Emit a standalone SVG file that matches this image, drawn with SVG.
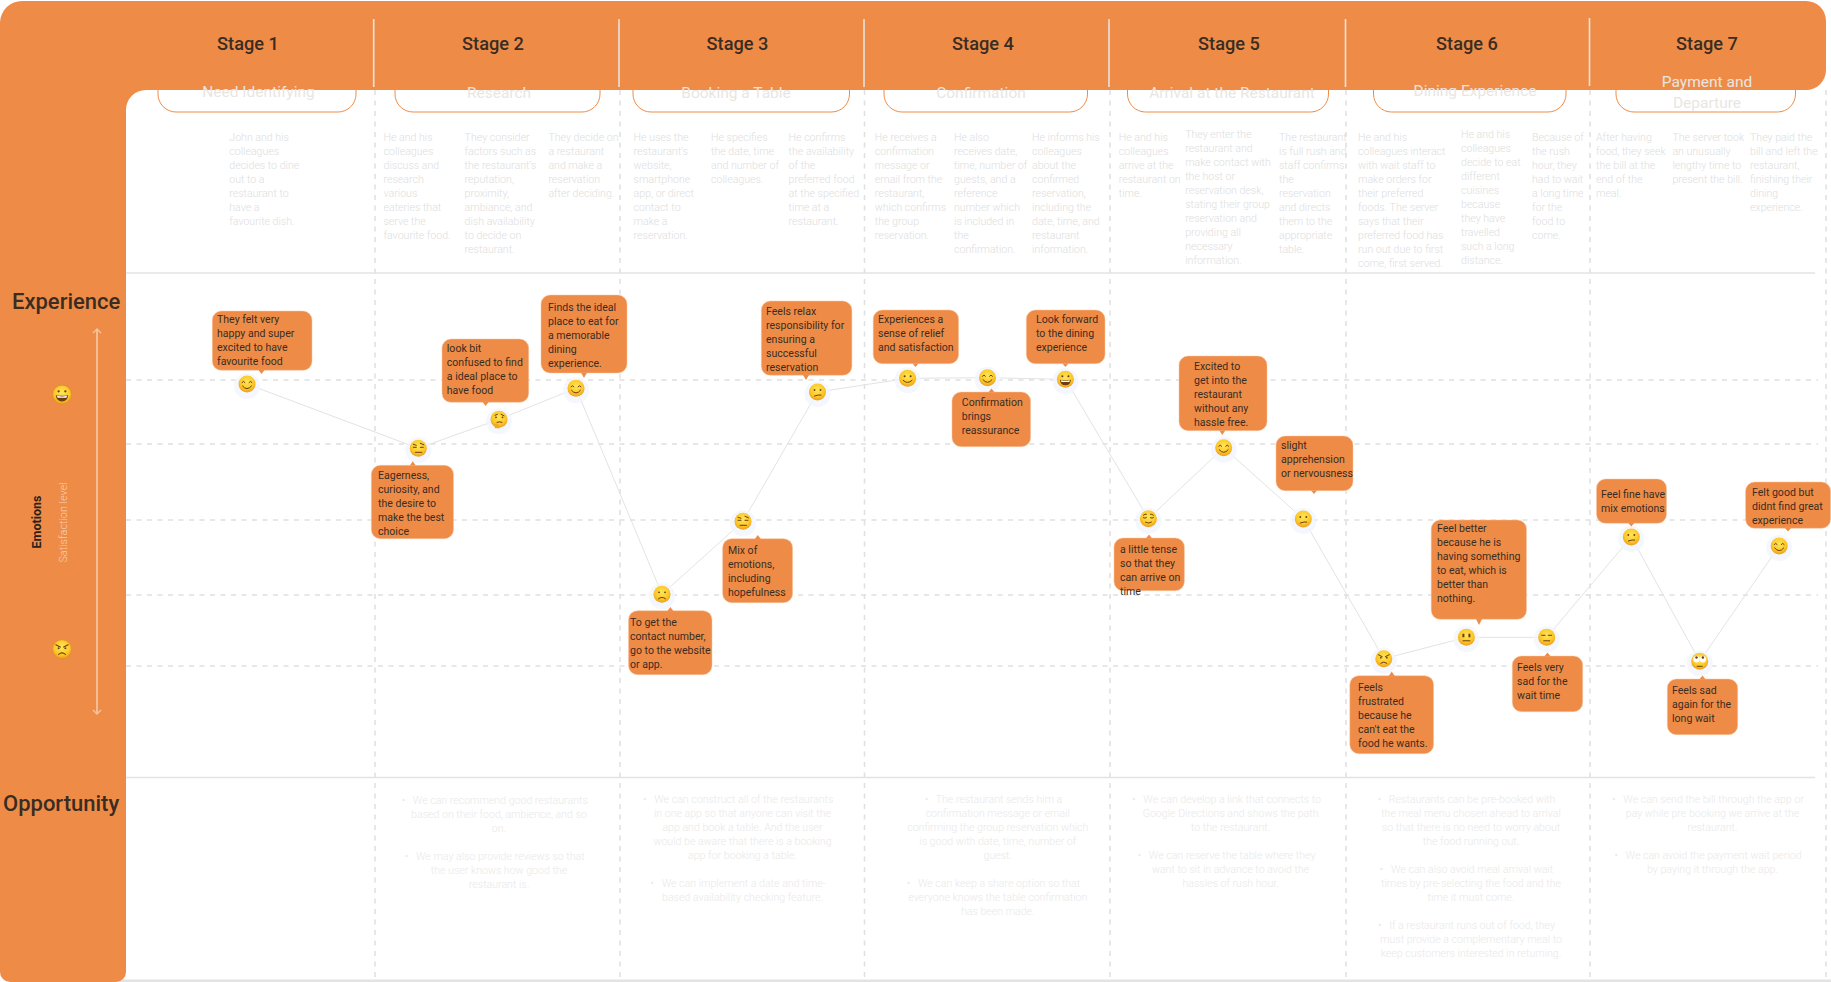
<svg xmlns="http://www.w3.org/2000/svg" width="1831" height="982" viewBox="0 0 1831 982">
<style>
text{font-family:Roboto,"Liberation Sans",sans-serif}
.stage{font-size:18.200px;font-weight:500;fill:#3a2c22;text-anchor:middle}
.side{font-size:22px;font-weight:500;fill:#3a2c22}
.pill{fill:#fff;stroke:#ee8c47;stroke-width:1}
.ptxt{font-size:15.500px;font-weight:400;fill:#e9e6e2;text-anchor:middle}
.body{font-size:10.600px;font-weight:300;fill:#dedede}
.opp{font-size:10.600px;font-weight:300;fill:#e9e9e9;text-anchor:middle}
.call{fill:#ee8c47;stroke:#f6c6a2;stroke-width:.5}
.tail{fill:#ee8c47}
.ctxt{font-size:10.550px;fill:#3a2c22}
.dash{stroke:#e0e0e0;stroke-width:1.500;stroke-dasharray:5 5.500;fill:none}
.solid{stroke:#e3e3e3;stroke-width:1.500;fill:none}
.sep{stroke:#e6e3e0;stroke-width:1.600}
.conn{stroke:#e3e3e3;stroke-width:1;fill:none}
.f{fill:none;stroke:#6b3d12;stroke-width:1;stroke-linecap:round}
.d{fill:#6b3d12}
</style>
<defs>
<radialGradient id="skin" cx="50%" cy="38%" r="62%"><stop offset="0" stop-color="#ffe55a"/><stop offset=".65" stop-color="#fcc827"/><stop offset="1" stop-color="#ee9a1e"/></radialGradient>
<marker id="chev" viewBox="0 0 6 10" refX="5" refY="5" markerWidth="6" markerHeight="10" markerUnits="userSpaceOnUse" orient="auto-start-reverse"><path d="M1 1L5 5L1 9" fill="none" stroke="#f4c39d" stroke-width="1.400"/></marker>
<g id="base"><circle r="13" cy="2" fill="#f1f5fd" opacity=".8"/><circle r="8.500" fill="url(#skin)"/></g>
<g id="baseS"><circle r="9.500" fill="url(#skin)" stroke="#dd8a20" stroke-width=".6"/></g>
<g id="joy"><use href="#base"/><path class="f" d="M-5-1.500Q-3.500-4-2-1.500M2-1.500Q3.500-4 5-1.500M-4.500 2Q0 7.500 4.500 2"/></g>
<g id="raise"><use href="#base"/><path class="f" d="M-5-4L-2-3M2-5L5.500-3.500M-5-1H-2M2-1H5M-3 4H3.500"/></g>
<g id="think"><use href="#base"/><path class="f" d="M-4-4L-1.500-5M2-5L5-3.500"/><circle class="d" cx="-3" cy="-2" r=".9"/><circle class="d" cx="3.500" cy="-2" r=".9"/><path class="f" d="M-2 3Q1 2 3 3"/><path d="M-5 5.500Q-3 2.500-.5 5.500L1 9H-4Z" fill="#f3a91f"/></g>
<g id="frown"><use href="#base"/><circle class="d" cx="-3" cy="-2" r=".9"/><circle class="d" cx="3" cy="-2" r=".9"/><path class="f" d="M-3.500 4.500Q0 1.500 3.500 4.500"/></g>
<g id="confused"><use href="#base"/><circle class="d" cx="-3" cy="-2" r=".9"/><circle class="d" cx="3" cy="-2" r=".9"/><path class="f" d="M-3 4Q1 2.500 3.500 3"/></g>
<g id="smile"><use href="#base"/><circle class="d" cx="-3" cy="-2" r="1"/><circle class="d" cx="3" cy="-2" r="1"/><path class="f" d="M-4.500 2Q0 6.500 4.500 2"/></g>
<g id="grin"><use href="#base"/><circle class="d" cx="-3" cy="-3" r="1"/><circle class="d" cx="3" cy="-3" r="1"/><path d="M-5.500 0.500Q0 1.500 5.500 0.500Q5 6-0 6Q-5 6-5.500 0.500Z" fill="#6b3d12"/><path d="M-4.500 1Q0 2 4.500 1L4 2.800H-4Z" fill="#fff"/></g>
<g id="relief"><use href="#base"/><path class="f" d="M-5-3.500Q-3.500-5-2-4.500M2-4.500Q3.500-5 5-3.500M-5-1Q-3.500 0-2-1M2-1Q3.500 0 5-1M-3 3.500Q0 5.500 3 3.500"/></g>
<g id="angry"><use href="#base"/><path class="f" d="M-5.500-4L-1.500-2M5.500-4L1.500-2"/><circle class="d" cx="-3" cy="-1" r=".9"/><circle class="d" cx="3" cy="-1" r=".9"/><path class="f" d="M-3 4.500Q0 2 3 4.500"/></g>
<g id="neutral"><use href="#base"/><path class="d" d="M-4-4h2v3.500h-2zM2-4h2v3.500h-2z" transform="translate(0 .5)"/><path class="f" d="M-3.500 3.500H3.500"/></g>
<g id="flat"><use href="#base"/><path class="f" d="M-5-2H-1.500M1.500-2H5M-3 3.500H3"/></g>
<g id="roll"><use href="#base"/><circle cx="-3.200" cy="-2" r="3.200" fill="#fff"/><circle cx="3.200" cy="-2" r="3.200" fill="#fff"/><circle class="d" cx="-3.200" cy="-3.800" r="1.200"/><circle class="d" cx="3.200" cy="-3.800" r="1.200"/><path class="f" d="M-2.500 5H2.500"/></g>
</defs>

<rect width="1831" height="982" fill="#fff"/>

<g id="grid">
<path class="dash" d="M126 380H1818M126 444H1818M126 520H1818M126 595H1818M126 666H1818"/>
<path class="dash" d="M375 90V981M620 90V981M864.500 90V981M1110 90V981M1346 90V981M1590 90V981M1826 90V981"/>
<path class="solid" d="M126 273H1815M126 777.500H1815"/>
<path d="M117 981H1831" stroke="#e3e3e3" stroke-width="3"/>
</g>

<g id="pills">
<rect class="pill" x="158" y="60" width="198" height="52" rx="18"/>
<rect class="pill" x="395" y="60" width="205" height="52" rx="18"/>
<rect class="pill" x="633" y="60" width="216.500" height="52" rx="18"/>
<rect class="pill" x="884" y="60" width="203.500" height="52" rx="18"/>
<rect class="pill" x="1127.500" y="60" width="201" height="52" rx="18"/>
<rect class="pill" x="1373.500" y="60" width="192.500" height="52" rx="18"/>
<rect class="pill" x="1616" y="60" width="179.500" height="52" rx="18"/>
</g>

<path id="frame" fill="#ee8c47" d="M0 22A22 22 0 0 1 22 1H1806A20 20 0 0 1 1826 21V70A20 20 0 0 1 1806 90H146A20 20 0 0 0 126 110V972A10 10 0 0 1 116 982H10A10 10 0 0 1 0 972Z"/>

<g id="separators">
<path class="sep" d="M373.700 19V87M619 19V87M864 19V87M1109 19V87M1345.500 19V87M1589.500 18V86"/>
</g>

<g id="stage-1"><text class="stage" x="248" y="49.500">Stage 1</text><text class="ptxt" x="258.500" y="96.500">Need Identifying</text>
<text class="body" x="229.300" y="141"><tspan x="229.300">John and his</tspan><tspan x="229.300" dy="14">colleagues</tspan><tspan x="229.300" dy="14">decides to dine</tspan><tspan x="229.300" dy="14">out to a</tspan><tspan x="229.300" dy="14">restaurant to</tspan><tspan x="229.300" dy="14">have a</tspan><tspan x="229.300" dy="14">favourite dish.</tspan></text></g>

<g id="stage-2"><text class="stage" x="493" y="49.500">Stage 2</text><text class="ptxt" x="499" y="97.500">Research</text>
<text class="body" y="141"><tspan x="383.500">He and his</tspan><tspan x="383.500" dy="14">colleagues</tspan><tspan x="383.500" dy="14">discuss and</tspan><tspan x="383.500" dy="14">research</tspan><tspan x="383.500" dy="14">various</tspan><tspan x="383.500" dy="14">eateries that</tspan><tspan x="383.500" dy="14">serve the</tspan><tspan x="383.500" dy="14">favourite food.</tspan></text>
<text class="body" y="141"><tspan x="464.600">They consider</tspan><tspan x="464.600" dy="14">factors such as</tspan><tspan x="464.600" dy="14">the restaurant's</tspan><tspan x="464.600" dy="14">reputation,</tspan><tspan x="464.600" dy="14">proximity,</tspan><tspan x="464.600" dy="14">ambiance, and</tspan><tspan x="464.600" dy="14">dish availability</tspan><tspan x="464.600" dy="14">to decide on</tspan><tspan x="464.600" dy="14">restaurant.</tspan></text>
<text class="body" y="141"><tspan x="548.400">They decide on</tspan><tspan x="548.400" dy="14">a restaurant</tspan><tspan x="548.400" dy="14">and make a</tspan><tspan x="548.400" dy="14">reservation</tspan><tspan x="548.400" dy="14">after deciding.</tspan></text></g>

<g id="stage-3"><text class="stage" x="737.500" y="49.500">Stage 3</text><text class="ptxt" x="736" y="97.500">Booking a Table</text>
<text class="body" y="141"><tspan x="633.600">He uses the</tspan><tspan x="633.600" dy="14">restaurant's</tspan><tspan x="633.600" dy="14">website,</tspan><tspan x="633.600" dy="14">smartphone</tspan><tspan x="633.600" dy="14">app, or direct</tspan><tspan x="633.600" dy="14">contact to</tspan><tspan x="633.600" dy="14">make a</tspan><tspan x="633.600" dy="14">reservation.</tspan></text>
<text class="body" y="141"><tspan x="711">He specifies</tspan><tspan x="711" dy="14">the date, time</tspan><tspan x="711" dy="14">and number of</tspan><tspan x="711" dy="14">colleagues.</tspan></text>
<text class="body" y="141"><tspan x="788.600">He confirms</tspan><tspan x="788.600" dy="14">the availability</tspan><tspan x="788.600" dy="14">of the</tspan><tspan x="788.600" dy="14">preferred food</tspan><tspan x="788.600" dy="14">at the specified</tspan><tspan x="788.600" dy="14">time at a</tspan><tspan x="788.600" dy="14">restaurant.</tspan></text></g>

<g id="stage-4"><text class="stage" x="983" y="49.500">Stage 4</text><text class="ptxt" x="981" y="97.500">Confirmation</text>
<text class="body" y="141"><tspan x="874.800">He receives a</tspan><tspan x="874.800" dy="14">confirmation</tspan><tspan x="874.800" dy="14">message or</tspan><tspan x="874.800" dy="14">email from the</tspan><tspan x="874.800" dy="14">restaurant,</tspan><tspan x="874.800" dy="14">which confirms</tspan><tspan x="874.800" dy="14">the group</tspan><tspan x="874.800" dy="14">reservation.</tspan></text>
<text class="body" y="141"><tspan x="954">He also</tspan><tspan x="954" dy="14">receives date,</tspan><tspan x="954" dy="14">time, number of</tspan><tspan x="954" dy="14">guests, and a</tspan><tspan x="954" dy="14">reference</tspan><tspan x="954" dy="14">number which</tspan><tspan x="954" dy="14">is included in</tspan><tspan x="954" dy="14">the</tspan><tspan x="954" dy="14">confirmation.</tspan></text>
<text class="body" y="141"><tspan x="1032">He informs his</tspan><tspan x="1032" dy="14">colleagues</tspan><tspan x="1032" dy="14">about the</tspan><tspan x="1032" dy="14">confirmed</tspan><tspan x="1032" dy="14">reservation,</tspan><tspan x="1032" dy="14">including the</tspan><tspan x="1032" dy="14">date, time, and</tspan><tspan x="1032" dy="14">restaurant</tspan><tspan x="1032" dy="14">information.</tspan></text></g>

<g id="stage-5"><text class="stage" x="1229" y="49.500">Stage 5</text><text class="ptxt" x="1232" y="97.500">Arrival at the Restaurant</text>
<text class="body" y="141"><tspan x="1118.800">He and his</tspan><tspan x="1118.800" dy="14">colleagues</tspan><tspan x="1118.800" dy="14">arrive at the</tspan><tspan x="1118.800" dy="14">restaurant on</tspan><tspan x="1118.800" dy="14">time.</tspan></text>
<text class="body" y="138"><tspan x="1185.200">They enter the</tspan><tspan x="1185.200" dy="14">restaurant and</tspan><tspan x="1185.200" dy="14">make contact with</tspan><tspan x="1185.200" dy="14">the host or</tspan><tspan x="1185.200" dy="14">reservation desk,</tspan><tspan x="1185.200" dy="14">stating their group</tspan><tspan x="1185.200" dy="14">reservation and</tspan><tspan x="1185.200" dy="14">providing all</tspan><tspan x="1185.200" dy="14">necessary</tspan><tspan x="1185.200" dy="14">information.</tspan></text>
<text class="body" y="141"><tspan x="1279">The restaurant</tspan><tspan x="1279" dy="14">is full rush and</tspan><tspan x="1279" dy="14">staff confirms</tspan><tspan x="1279" dy="14">the</tspan><tspan x="1279" dy="14">reservation</tspan><tspan x="1279" dy="14">and directs</tspan><tspan x="1279" dy="14">them to the</tspan><tspan x="1279" dy="14">appropriate</tspan><tspan x="1279" dy="14">table.</tspan></text></g>

<g id="stage-6"><text class="stage" x="1467" y="49.500">Stage 6</text><text class="ptxt" x="1475" y="96">Dining Experience</text>
<text class="body" y="141"><tspan x="1358">He and his</tspan><tspan x="1358" dy="14">colleagues interact</tspan><tspan x="1358" dy="14">with wait staff to</tspan><tspan x="1358" dy="14">make orders for</tspan><tspan x="1358" dy="14">their preferred</tspan><tspan x="1358" dy="14">foods. The server</tspan><tspan x="1358" dy="14">says that their</tspan><tspan x="1358" dy="14">preferred food has</tspan><tspan x="1358" dy="14">run out due to first</tspan><tspan x="1358" dy="14">come, first served.</tspan></text>
<text class="body" y="138"><tspan x="1461">He and his</tspan><tspan x="1461" dy="14">colleagues</tspan><tspan x="1461" dy="14">decide to eat</tspan><tspan x="1461" dy="14">different</tspan><tspan x="1461" dy="14">cuisines</tspan><tspan x="1461" dy="14">because</tspan><tspan x="1461" dy="14">they have</tspan><tspan x="1461" dy="14">travelled</tspan><tspan x="1461" dy="14">such a long</tspan><tspan x="1461" dy="14">distance.</tspan></text>
<text class="body" y="141"><tspan x="1532">Because of</tspan><tspan x="1532" dy="14">the rush</tspan><tspan x="1532" dy="14">hour, they</tspan><tspan x="1532" dy="14">had to wait</tspan><tspan x="1532" dy="14">a long time</tspan><tspan x="1532" dy="14">for the</tspan><tspan x="1532" dy="14">food to</tspan><tspan x="1532" dy="14">come.</tspan></text></g>

<g id="stage-7"><text class="stage" x="1707" y="49.500">Stage 7</text><text class="ptxt" x="1707" y="86.500">Payment and</text><text class="ptxt" x="1707" y="107.500">Departure</text>
<text class="body" y="141"><tspan x="1596">After having</tspan><tspan x="1596" dy="14">food, they seek</tspan><tspan x="1596" dy="14">the bill at the</tspan><tspan x="1596" dy="14">end of the</tspan><tspan x="1596" dy="14">meal.</tspan></text>
<text class="body" y="141"><tspan x="1672.400">The server took</tspan><tspan x="1672.400" dy="14">an unusually</tspan><tspan x="1672.400" dy="14">lengthy time to</tspan><tspan x="1672.400" dy="14">present the bill.</tspan></text>
<text class="body" y="141"><tspan x="1750">They paid the</tspan><tspan x="1750" dy="14">bill and left the</tspan><tspan x="1750" dy="14">restaurant,</tspan><tspan x="1750" dy="14">finishing their</tspan><tspan x="1750" dy="14">dining</tspan><tspan x="1750" dy="14">experience.</tspan></text></g>

<g id="side-labels">
<text class="side" x="12" y="308.500">Experience</text>
<text class="side" x="3" y="810.500">Opportunity</text>
<text x="41" y="522" transform="rotate(-90 41 522)" text-anchor="middle" font-size="12.500" font-weight="700" fill="#2b211a">Emotions</text>
<text x="66.500" y="522.500" transform="rotate(-90 66.500 522.500)" text-anchor="middle" font-size="10.800" font-weight="300" fill="#f5cfb3">Satisfaction level</text>
<path d="M97 329V714" stroke="#f4c39d" stroke-width="1.800" fill="none" marker-start="url(#chev)" marker-end="url(#chev)"/>
<use href="#baseS" x="62" y="394.700"/><g transform="translate(62 394.700) scale(1.120)"><circle class="d" cx="-3" cy="-3" r="1"/><circle class="d" cx="3" cy="-3" r="1"/><path d="M-5.500 0.500Q0 1.500 5.500 0.500Q5 6-0 6Q-5 6-5.500 0.500Z" fill="#6b3d12"/><path d="M-4.500 1Q0 2 4.500 1L4 2.800H-4Z" fill="#fff"/></g>
<use href="#baseS" x="62" y="649.300"/><g transform="translate(62 649.300) scale(1.120)"><path class="f" d="M-5.500-4L-1.500-2M5.500-4L1.500-2"/><circle class="d" cx="-3" cy="-1" r=".9"/><circle class="d" cx="3" cy="-1" r=".9"/><path class="f" d="M-3 4.500Q0 2 3 4.500"/></g>
</g>

<g id="connectors" class="conn">
<path d="M247 384L418.300 448.300"/>
<path d="M418.300 448.300L499 419.300"/>
<path d="M499 419.300L576 388.300"/>
<path d="M576 388.300L662 594.300"/>
<path d="M662 594.300L743 521.300"/>
<path d="M743 521.300L817.500 392"/>
<path d="M817.500 392L907.600 378.300"/>
<path d="M907.600 378.300L987.500 377.700"/>
<path d="M987.500 377.700L1065.400 379.300"/>
<path d="M1065.400 379.300L1148.400 518.700"/>
<path d="M1148.400 518.700L1223.700 447.700"/>
<path d="M1223.700 447.700L1303.300 519"/>
<path d="M1303.300 519L1383.800 658.700"/>
<path d="M1383.800 658.700L1466.400 637.300"/>
<path d="M1466.400 637.300L1546.700 637.300"/>
<path d="M1546.700 637.300L1631.300 537"/>
<path d="M1631.300 537L1699.700 661.300"/>
<path d="M1699.700 661.300L1779.200 546"/>
</g>

<g id="node-1"><use href="#joy" x="247" y="384"/><rect class="call" x="212.300" y="311" width="99.700" height="59.300" rx="9"/><path class="tail" d="M258.500 370H264.500L261.500 374Z"/>
<text class="ctxt" y="323"><tspan x="217">They felt very</tspan><tspan x="217" dy="14">happy and super</tspan><tspan x="217" dy="14">excited to have</tspan><tspan x="217" dy="14">favourite food</tspan></text></g>
<g id="node-2"><use href="#raise" x="418.300" y="448.300"/><rect class="call" x="371.300" y="465.300" width="82.200" height="73.400" rx="9"/><path class="tail" d="M409.800 465.500H415.800L412.800 461.300Z"/>
<text class="ctxt" y="479"><tspan x="378">Eagerness,</tspan><tspan x="378" dy="14">curiosity, and</tspan><tspan x="378" dy="14">the desire to</tspan><tspan x="378" dy="14">make the best</tspan><tspan x="378" dy="14">choice</tspan></text></g>
<g id="node-3"><use href="#think" x="499" y="419.300"/><rect class="call" x="442" y="339" width="86.700" height="63.300" rx="9"/><path class="tail" d="M482.600 402H488.600L485.600 406Z"/>
<text class="ctxt" y="352"><tspan x="446.800">look bit</tspan><tspan x="446.800" dy="14">confused to find</tspan><tspan x="446.800" dy="14">a ideal place to</tspan><tspan x="446.800" dy="14">have food</tspan></text></g>
<g id="node-4"><use href="#joy" x="576" y="388.300"/><rect class="call" x="541" y="295" width="86" height="78" rx="9"/><path class="tail" d="M581 372.800H587L584 378Z"/>
<text class="ctxt" y="311"><tspan x="548">Finds the ideal</tspan><tspan x="548" dy="14">place to eat for</tspan><tspan x="548" dy="14">a memorable</tspan><tspan x="548" dy="14">dining</tspan><tspan x="548" dy="14">experience.</tspan></text></g>
<g id="node-5"><use href="#frown" x="662" y="594.300"/><rect class="call" x="628.500" y="610.700" width="83.500" height="64" rx="9"/><path class="tail" d="M667.400 611H673.400L670.400 607Z"/>
<text class="ctxt" y="626.400"><tspan x="630">To get the</tspan><tspan x="630" dy="14">contact number,</tspan><tspan x="630" dy="14">go to the website</tspan><tspan x="630" dy="14">or app.</tspan></text></g>
<g id="node-6"><use href="#raise" x="743" y="521.300"/><rect class="call" x="722.600" y="538.700" width="70" height="64" rx="9"/><path class="tail" d="M754.800 539H760.800L757.800 535Z"/>
<text class="ctxt" y="554"><tspan x="728">Mix of</tspan><tspan x="728" dy="14">emotions,</tspan><tspan x="728" dy="14">including</tspan><tspan x="728" dy="14">hopefulness</tspan></text></g>
<g id="node-7"><use href="#confused" x="817.500" y="392"/><rect class="call" x="761.300" y="301" width="90.600" height="74.300" rx="9"/><path class="tail" d="M803 375H809L806 380Z"/>
<text class="ctxt" y="315"><tspan x="766">Feels relax</tspan><tspan x="766" dy="14">responsibility for</tspan><tspan x="766" dy="14">ensuring a</tspan><tspan x="766" dy="14">successful</tspan><tspan x="766" dy="14">reservation</tspan></text></g>
<g id="node-8"><use href="#smile" x="907.600" y="378.300"/><rect class="call" x="873.200" y="310" width="85.400" height="53.700" rx="9"/><path class="tail" d="M912.500 363.500H918.500L915.500 367Z"/>
<text class="ctxt" y="323"><tspan x="878">Experiences a</tspan><tspan x="878" dy="14">sense of relief</tspan><tspan x="878" dy="14">and satisfaction</tspan></text></g>
<g id="node-9"><use href="#joy" x="987.500" y="377.700"/><rect class="call" x="952" y="392" width="78.600" height="54.700" rx="9"/><path class="tail" d="M988.500 392.300H994.500L991.500 388.500Z"/>
<text class="ctxt" y="406"><tspan x="961.800">Confirmation</tspan><tspan x="961.800" dy="14">brings</tspan><tspan x="961.800" dy="14">reassurance</tspan></text></g>
<g id="node-10"><use href="#grin" x="1065.400" y="379.300"/><rect class="call" x="1026.300" y="310" width="78.700" height="53.700" rx="9"/><path class="tail" d="M1062.400 363.500H1068.400L1065.400 367Z"/>
<text class="ctxt" y="323"><tspan x="1036">Look forward</tspan><tspan x="1036" dy="14">to the dining</tspan><tspan x="1036" dy="14">experience</tspan></text></g>
<g id="node-11"><use href="#relief" x="1148.400" y="518.700"/><rect class="call" x="1114" y="538" width="70.400" height="52.700" rx="9"/><path class="tail" d="M1146 538.300H1152L1149 534.500Z"/>
<text class="ctxt" y="553"><tspan x="1120">a little tense</tspan><tspan x="1120" dy="14">so that they</tspan><tspan x="1120" dy="14">can arrive on</tspan><tspan x="1120" dy="14">time</tspan></text></g>
<g id="node-12"><use href="#joy" x="1223.700" y="447.700"/><rect class="call" x="1179" y="356" width="88" height="74.700" rx="9"/><path class="tail" d="M1219.300 430.500H1225.300L1222.300 435Z"/>
<text class="ctxt" y="370"><tspan x="1194">Excited to</tspan><tspan x="1194" dy="14">get into the</tspan><tspan x="1194" dy="14">restaurant</tspan><tspan x="1194" dy="14">without any</tspan><tspan x="1194" dy="14">hassle free.</tspan></text></g>
<g id="node-13"><use href="#confused" x="1303.300" y="519"/><rect class="call" x="1276" y="436" width="77" height="54.700" rx="9"/><path class="tail" d="M1311 490.500H1317L1314 494Z"/>
<text class="ctxt" y="449.400"><tspan x="1281">slight</tspan><tspan x="1281" dy="14">apprehension</tspan><tspan x="1281" dy="14">or nervousness</tspan></text></g>
<g id="node-14"><use href="#angry" x="1383.800" y="658.700"/><rect class="call" x="1349.800" y="675.700" width="83.800" height="78" rx="9"/><path class="tail" d="M1388.700 676H1394.700L1391.700 671.500Z"/>
<text class="ctxt" y="691"><tspan x="1358">Feels</tspan><tspan x="1358" dy="14">frustrated</tspan><tspan x="1358" dy="14">because he</tspan><tspan x="1358" dy="14">can't eat the</tspan><tspan x="1358" dy="14">food he wants.</tspan></text></g>
<g id="node-15"><use href="#neutral" x="1466.400" y="637.300"/><rect class="call" x="1431.200" y="520" width="95.300" height="99.300" rx="9"/><path class="tail" d="M1476 619H1482L1479 625Z"/>
<text class="ctxt" y="532"><tspan x="1437">Feel better</tspan><tspan x="1437" dy="14">because he is</tspan><tspan x="1437" dy="14">having something</tspan><tspan x="1437" dy="14">to eat, which is</tspan><tspan x="1437" dy="14">better than</tspan><tspan x="1437" dy="14">nothing.</tspan></text></g>
<g id="node-16"><use href="#flat" x="1546.700" y="637.300"/><rect class="call" x="1512.300" y="656" width="70.400" height="55.700" rx="9"/><path class="tail" d="M1544.500 656.300H1550.500L1547.500 652.500Z"/>
<text class="ctxt" y="671"><tspan x="1517">Feels very</tspan><tspan x="1517" dy="14">sad for the</tspan><tspan x="1517" dy="14">wait time</tspan></text></g>
<g id="node-17"><use href="#confused" x="1631.300" y="537"/><rect class="call" x="1596.500" y="479" width="70" height="44.300" rx="9"/><path class="tail" d="M1628.300 523H1634.300L1631.300 526.500Z"/>
<text class="ctxt" y="498"><tspan x="1601">Feel fine have</tspan><tspan x="1601" dy="14">mix emotions</tspan></text></g>
<g id="node-18"><use href="#roll" x="1699.700" y="661.300"/><rect class="call" x="1667.300" y="679" width="70.400" height="55.700" rx="9"/><path class="tail" d="M1699.500 679.300H1705.500L1702.500 675.500Z"/>
<text class="ctxt" y="694"><tspan x="1672">Feels sad</tspan><tspan x="1672" dy="14">again for the</tspan><tspan x="1672" dy="14">long wait</tspan></text></g>
<g id="node-19"><use href="#joy" x="1779.200" y="546"/><rect class="call" x="1745.600" y="482" width="85" height="46.300" rx="9"/><path class="tail" d="M1785 528H1791L1788 531.500Z"/>
<text class="ctxt" y="496"><tspan x="1752">Felt good but</tspan><tspan x="1752" dy="14">didnt find great</tspan><tspan x="1752" dy="14">experience</tspan></text></g>

<g id="opportunities">
<text class="opp" y="804.400"><tspan x="494.700">•&#160;&#160; We can recommend good restaurants</tspan><tspan x="499" dy="14">based on their food, ambience, and so</tspan><tspan x="499" dy="14">on.</tspan><tspan x="494.700" dy="28">•&#160;&#160; We may also provide reviews so that</tspan><tspan x="499" dy="14">the user knows how good the</tspan><tspan x="499" dy="14">restaurant is.</tspan></text>
<text class="opp" y="803"><tspan x="738.200">•&#160;&#160; We can construct all of the restaurants</tspan><tspan x="742.500" dy="14">in one app so that anyone can visit the</tspan><tspan x="742.500" dy="14">app and book a table. And the user</tspan><tspan x="742.500" dy="14">would be aware that there is a booking</tspan><tspan x="742.500" dy="14">app for booking a table.</tspan><tspan x="738.200" dy="28">•&#160;&#160; We can implement a date and time-</tspan><tspan x="742.500" dy="14">based availability checking feature.</tspan></text>
<text class="opp" y="803"><tspan x="993.500">•&#160;&#160; The restaurant sends him a</tspan><tspan x="997.800" dy="14">confirmation message or email</tspan><tspan x="997.800" dy="14">confirming the group reservation which</tspan><tspan x="997.800" dy="14">is good with date, time, number of</tspan><tspan x="997.800" dy="14">guest.</tspan><tspan x="993.500" dy="28">•&#160;&#160; We can keep a share option so that</tspan><tspan x="997.800" dy="14">everyone knows the table confirmation</tspan><tspan x="997.800" dy="14">has been made.</tspan></text>
<text class="opp" y="803"><tspan x="1226.600">•&#160;&#160; We can develop a link that connects to</tspan><tspan x="1230.600" dy="14">Google Directions and shows the path</tspan><tspan x="1230.600" dy="14">to the restaurant.</tspan><tspan x="1226.600" dy="28">•&#160;&#160; We can reserve the table where they</tspan><tspan x="1230.600" dy="14">want to sit in advance to avoid the</tspan><tspan x="1230.600" dy="14">hassles of rush hour.</tspan></text>
<text class="opp" y="803"><tspan x="1466.500">•&#160;&#160; Restaurants can be pre-booked with</tspan><tspan x="1471" dy="14">the meal menu chosen ahead to arrival</tspan><tspan x="1471" dy="14">so that there is no need to worry about</tspan><tspan x="1471" dy="14">the food running out.</tspan><tspan x="1466.500" dy="28">•&#160;&#160; We can also avoid meal arrival wait</tspan><tspan x="1471" dy="14">times by pre-selecting the food and the</tspan><tspan x="1471" dy="14">time it must come.</tspan><tspan x="1466.500" dy="28">•&#160;&#160; If a restaurant runs out of food, they</tspan><tspan x="1471" dy="14">must provide a complementary meal to</tspan><tspan x="1471" dy="14">keep customers interested in returning.</tspan></text>
<text class="opp" y="803"><tspan x="1708">•&#160;&#160; We can send the bill through the app or</tspan><tspan x="1712.500" dy="14">pay while pre booking we arrive at the</tspan><tspan x="1712.500" dy="14">restaurant.</tspan><tspan x="1708" dy="28">•&#160;&#160; We can avoid the payment wait period</tspan><tspan x="1712.500" dy="14">by paying it through the app.</tspan></text>
</g>
</svg>
